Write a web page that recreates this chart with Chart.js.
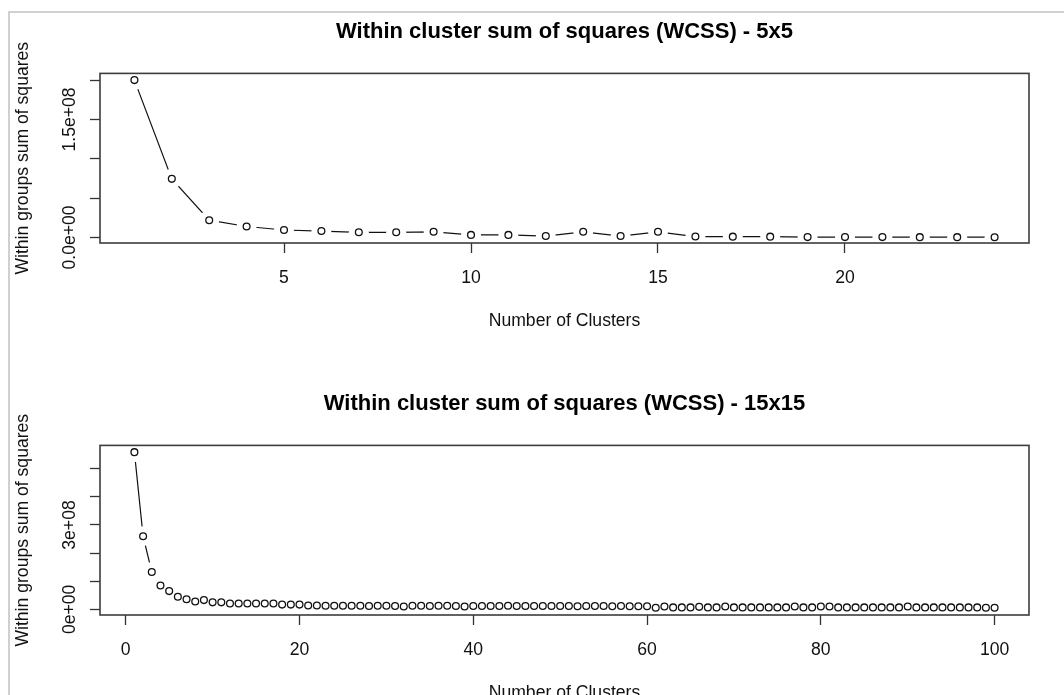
<!DOCTYPE html>
<html>
<head>
<meta charset="utf-8">
<title>Within cluster sum of squares (WCSS)</title>
<script src="https://cdn.jsdelivr.net/npm/chart.js@4/dist/chart.umd.min.js"></script>
<style>
body   { margin:0; background:#fff; overflow:hidden; width:1064px; height:695px; }
#frame { position:absolute; left:8px; top:11px; right:0; bottom:0;
         border-top:2px solid #d0d0d0; border-left:2px solid #d0d0d0; }
canvas { position:absolute; left:0; }
</style>
</head>
<body>
<div id="frame"></div>
<canvas id="chart5" width="1064" height="370" style="top:0"></canvas>
<canvas id="chart15" width="1064" height="360" style="top:370px"></canvas>
<script>
///////////////////////////////////////////////////////////////////////////////
// data

// 5x5 grid
const clusters5 = [1, 2, 3, 4, 5, 6, 7, 8, 9, 10, 11, 12,
                   13, 14, 15, 16, 17, 18, 19, 20, 21, 22, 23, 24];
const wcss5 = [200e6, 74.5e6, 22e6, 14e6, 9.5e6, 8.2e6, 6.6e6, 6.6e6, 7.2e6, 3.3e6, 3.3e6, 1.8e6,
               7.2e6, 1.8e6, 7.2e6, 1.2e6, 1.1e6, 1.1e6, 0.5e6, 0.5e6, 0.5e6, 0.45e6, 0.45e6, 0.4e6];
const xTicks5 = [5, 10, 15, 20];
const yTicks5 = [0, 5e7, 1e8, 1.5e8, 2e8];
const yLabels5 = ["0.0e+00", "", "", "1.5e+08", ""];

// 15x15 grid
const clusters15 = [
     1,  2,  3,  4,  5,  6,  7,  8,  9, 10, 11, 12, 13, 14, 15, 16, 17, 18, 19, 20,
    21, 22, 23, 24, 25, 26, 27, 28, 29, 30, 31, 32, 33, 34, 35, 36, 37, 38, 39, 40,
    41, 42, 43, 44, 45, 46, 47, 48, 49, 50, 51, 52, 53, 54, 55, 56, 57, 58, 59, 60,
    61, 62, 63, 64, 65, 66, 67, 68, 69, 70, 71, 72, 73, 74, 75, 76, 77, 78, 79, 80,
    81, 82, 83, 84, 85, 86, 87, 88, 89, 90, 91, 92, 93, 94, 95, 96, 97, 98, 99, 100];
const wcss15 = [
    559e6, 260e6, 133e6, 85e6, 65e6, 45e6, 36e6, 28e6, 33e6, 25e6,
    25e6, 21e6, 21e6, 21e6, 21e6, 21e6, 21e6, 17e6, 17e6, 17e6,
    14e6, 14e6, 13e6, 13e6, 13e6, 13e6, 13e6, 12e6, 13e6, 13e6,
    12e6, 10e6, 13e6, 13e6, 12e6, 13e6, 13e6, 12e6, 10e6, 12e6,
    12e6, 12e6, 12e6, 13e6, 12e6, 12e6, 12e6, 12e6, 12e6, 12e6,
    12e6, 11e6, 12e6, 12e6, 12e6, 11e6, 12e6, 11e6, 11e6, 11e6,
    6e6, 10e6, 7e6, 7e6, 7e6, 9e6, 7e6, 7e6, 10e6, 7e6,
    7e6, 7e6, 7e6, 7e6, 7e6, 7e6, 10e6, 7e6, 7e6, 10e6,
    10e6, 7e6, 7e6, 7e6, 7e6, 7e6, 7e6, 7e6, 7e6, 10e6,
    7e6, 7e6, 7e6, 7e6, 7e6, 7e6, 7e6, 7e6, 6e6, 6e6];
const xTicks15 = [0, 20, 40, 60, 80, 100];
const yTicks15 = [0, 1e8, 2e8, 3e8, 4e8, 5e8];
const yLabels15 = ["0e+00", "", "", "3e+08", "", ""];

const FONT = '"Liberation Sans", Arial, sans-serif';
Chart.defaults.font.family = FONT;
Chart.defaults.color = "#000";


///////////////////////////////////////////////////////////////////////////////
// R style box round the plot region, drawn over the data
const boxPlugin = {
    id: "rbox",
    afterDatasetsDraw(chart)
    {
        let a = chart.chartArea;
        let ctx = chart.ctx;
        ctx.save();
        ctx.strokeStyle = "#3c3c3c";
        ctx.lineWidth = 1.6;
        ctx.strokeRect(a.left, a.top, a.right - a.left, a.bottom - a.top);
        ctx.restore();
    }
};


///////////////////////////////////////////////////////////////////////////////
document.addEventListener("DOMContentLoaded", () =>
{
    drawChart("chart5", clusters5, wcss5, {
        title: "Within cluster sum of squares (WCSS) - 5x5",
        titleTop: 19, titleBottom: 28, padBottom: 38.5,
        xMin: 0.08, xMax: 24.92, yMin: -7e6, yMax: 208.5e6,
        xTicks: xTicks5, yTicks: yTicks5, yLabels: yLabels5, yPad: -12
    });

    drawChart("chart15", clusters15, wcss15, {
        title: "Within cluster sum of squares (WCSS) - 15x15",
        titleTop: 21, titleBottom: 28, padBottom: 26.5,
        xMin: -2.96, xMax: 103.96, yMin: -20e6, yMax: 583e6,
        xTicks: xTicks15, yTicks: yTicks15, yLabels: yLabels15, yPad: -5
    });
});


///////////////////////////////////////////////////////////////////////////////
function drawChart(id, xs, ys, cfg)
{
    let points = xs.map((x, i) => ({ x: x, y: ys[i] }));
    let context = document.getElementById(id).getContext("2d");

    let tickGrid = {
        display: true,
        drawOnChartArea: false,
        drawTicks: true,
        tickLength: 10,
        tickWidth: 1.3,
        tickColor: "#333"
    };

    return new Chart(context,
    {
        type: "line",
        data:
        {
            datasets:
            [
                {   // open circles
                    data: points,
                    showLine: false,
                    pointRadius: 3.4,
                    pointBorderWidth: 1.3,
                    pointBorderColor: "#111",
                    pointBackgroundColor: "#fff"
                },
                {   // white gap round each circle (type = "b")
                    data: points,
                    showLine: false,
                    pointRadius: 10,
                    pointBorderWidth: 0,
                    pointBorderColor: "#fff",
                    pointBackgroundColor: "#fff",
                    clip: 0
                },
                {   // connecting line
                    data: points,
                    pointRadius: 0,
                    borderColor: "#111",
                    borderWidth: 1.2,
                    tension: 0
                }
            ]
        },
        options:
        {
            responsive: false,
            animation: false,
            events: [],
            layout: { padding: { left: 0, right: 35, top: 0, bottom: cfg.padBottom } },
            plugins:
            {
                legend: { display: false },
                tooltip: { enabled: false },
                title:
                {
                    display: true,
                    text: cfg.title,
                    fullSize: false,
                    color: "#000",
                    font: { family: FONT, size: 22, weight: "bold" },
                    padding: { top: cfg.titleTop, bottom: cfg.titleBottom }
                }
            },
            scales:
            {
                x:
                {
                    type: "linear",
                    min: cfg.xMin,
                    max: cfg.xMax,
                    afterFit: s => { s.height = 88.5; },
                    afterBuildTicks: s => { s.ticks = cfg.xTicks.map(v => ({ value: v })); },
                    grid: tickGrid,
                    border: { display: false },
                    ticks:
                    {
                        autoSkip: false,
                        maxRotation: 0,
                        padding: 14.5,
                        color: "#111",
                        font: { family: FONT, size: 17.6 },
                        callback: v => String(v)
                    },
                    title:
                    {
                        display: true,
                        text: "Number of Clusters",
                        color: "#111",
                        font: { family: FONT, size: 17.6 },
                        padding: 0
                    }
                },
                y:
                {
                    type: "linear",
                    min: cfg.yMin,
                    max: cfg.yMax,
                    afterFit: s => { s.width = 100; },
                    afterBuildTicks: s => { s.ticks = cfg.yTicks.map(v => ({ value: v })); },
                    grid: tickGrid,
                    border: { display: false },
                    ticks:
                    {
                        autoSkip: false,
                        minRotation: 90,
                        maxRotation: 90,
                        crossAlign: "center",
                        padding: cfg.yPad,
                        color: "#111",
                        font: { family: FONT, size: 17.6 },
                        callback: (v, i) => cfg.yLabels[i]
                    },
                    title:
                    {
                        display: true,
                        text: "Within groups sum of squares",
                        color: "#111",
                        font: { family: FONT, size: 17.6 },
                        padding: { top: 13, bottom: 0 }
                    }
                }
            }
        },
        plugins: [boxPlugin]
    });
}
</script>
</body>
</html>
